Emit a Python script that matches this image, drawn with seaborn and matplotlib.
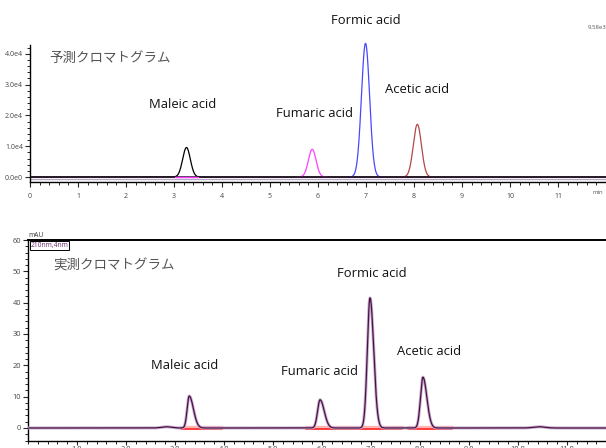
import numpy as np
import pandas as pd
import matplotlib
matplotlib.use("Agg")
import matplotlib.pyplot as plt
from matplotlib.ticker import MultipleLocator, FixedLocator, FixedFormatter
import seaborn as sns

# ---- predicted chromatogram (peak table) ----
pred_names = ["Maleic acid", "Fumaric acid", "Formic acid", "Acetic acid"]
pred_rt = [3.26, 5.88, 6.99, 8.07]          # min
pred_height = [9580, 9000, 43400, 17100]    # intensity
pred_sigma = [0.08, 0.08, 0.085, 0.085]     # min
pred_colors = ["black", "#ff40ff", "#4848ff", "#b04848"]

# ---- measured chromatogram (peak table, mAU) ----
meas_rt = [2.82, 3.29, 5.96, 6.98, 8.06, 10.43]
meas_height = [0.4, 10.2, 9.0, 41.5, 16.2, 0.4]
meas_sigma_left = [0.10, 0.042, 0.05, 0.055, 0.05, 0.12]
meas_sigma_right = [0.10, 0.085, 0.085, 0.075, 0.08, 0.12]
meas_baselines = [(3.12, 3.96), (5.68, 7.63), (7.76, 8.66)]

pred_tick_labels = [str(i) for i in range(12)]
meas_tick_labels = [f"{i:.1f}" for i in range(1, 12)]

sns.set_theme(style="ticks")
plt.rcParams["font.family"] = ["Open Sans", "Noto Sans CJK JP", "DejaVu Sans"]
jp_font = ["Noto Sans CJK JP", "DejaVu Sans"]

t = np.linspace(0, 12, 4801)


def gauss(x, rt, h, s):
    return h * np.exp(-0.5 * ((x - rt) / s) ** 2)


def skewed(x, rt, h, sl, sr):
    s = np.where(x < rt, sl, sr)
    return h * np.exp(-0.5 * ((x - rt) / s) ** 2)


fig = plt.figure(figsize=(6.06, 4.48), dpi=100)

# ================= upper panel =================
ax1 = fig.add_axes([30 / 606, 1 - 182 / 448, 576 / 606, 142 / 448])
ax1.set_xlim(0, 12)
ax1.set_ylim(-1620, 44480)

# faint companion baseline
ax1.plot([0, 12], [-550, -550], color="#b8a8c8", lw=1.0, zorder=1)

for name, rt, h, s, c in zip(pred_names, pred_rt, pred_height, pred_sigma, pred_colors):
    if c == "black":
        df = pd.DataFrame({"t": t, "y": gauss(t, rt, h, s)})
    else:
        m = np.abs(t - rt) < 4 * s
        df = pd.DataFrame({"t": t[m], "y": gauss(t[m], rt, h, s)})
    sns.lineplot(data=df, x="t", y="y", color=c, lw=0.9, ax=ax1, zorder=3)

# baseline
ax1.plot([0, 12], [0, 0], color="#1a0a1a", lw=1.1, zorder=4)
ax1.plot([3.02, 3.5], [150, 150], color="#ff40ff", lw=1.0, zorder=5)

ax1.spines["top"].set_visible(False)
ax1.spines["right"].set_visible(False)
ax1.spines["left"].set_bounds(-1620, 43000)
for sp in ["left", "bottom"]:
    ax1.spines[sp].set_linewidth(1.0)
    ax1.spines[sp].set_color("black")

ax1.yaxis.set_major_locator(FixedLocator([0, 10000, 20000, 30000, 40000]))
ax1.yaxis.set_major_formatter(FixedFormatter(["0.0e0", "1.0e4", "2.0e4", "3.0e4", "4.0e4"]))
ax1.yaxis.set_minor_locator(FixedLocator(np.arange(-2000, 43000, 2000)[1:]))
ax1.xaxis.set_major_locator(FixedLocator(list(range(12))))
ax1.xaxis.set_major_formatter(FixedFormatter(pred_tick_labels))
ax1.xaxis.set_minor_locator(MultipleLocator(0.2))
ax1.tick_params(axis="both", which="major", length=3.5, width=0.8, labelsize=5,
                labelcolor="#444444", pad=1.5, direction="out")
ax1.tick_params(axis="both", which="minor", length=2.5, width=0.7, direction="out")
ax1.tick_params(axis="x", which="major", pad=4.5)
ax1.set_xlabel("")
ax1.set_ylabel("")
ax1.text(11.82, -4200, "min", fontsize=4.3, color="#555555", ha="center", va="top")
ax1.text(1.0, 1.085, "9.58e3", transform=ax1.transAxes, fontsize=4.3,
         color="#555555", ha="right", va="center", clip_on=False)

ax1.text(0.41, 38600, "予測クロマトグラム", family=jp_font, fontsize=9.7,
         color="#555555", ha="left", va="center")
pred_label_pos = [(3.19, 23700), (5.92, 20500), (6.99, 50800), (8.07, 28300)]
for name, (lx, ly) in zip(pred_names, pred_label_pos):
    ax1.text(lx, ly, name, fontsize=9.4, color="#111111", ha="center",
             va="center", clip_on=False)

# ================= lower panel =================
ax2 = fig.add_axes([28 / 606, 1 - 441 / 448, 578 / 606, 201 / 448])
ax2.set_xlim(0, 578 / 49)
ax2.set_ylim(-4.15, 60)

sig = np.zeros_like(t)
for rt, h, sl, sr in zip(meas_rt, meas_height, meas_sigma_left, meas_sigma_right):
    sig += skewed(t, rt, h, sl, sr)
dfm = pd.DataFrame({"t": t, "y": sig})

for a, b in meas_baselines:
    ax2.plot([a, b], [0.4, 0.4], color="#ffb4b4", lw=2.4, zorder=2)
    ax2.plot([a, b], [-0.2, -0.2], color="#ff3030", lw=1.3, zorder=2)

sns.lineplot(data=dfm, x="t", y="y", color="#c8b0d4", lw=2.2, ax=ax2, zorder=3)
sns.lineplot(data=dfm, x="t", y="y", color="#4a1040", lw=0.9, ax=ax2, zorder=4)

ax2.spines["right"].set_visible(False)
for sp in ["left", "bottom"]:
    ax2.spines[sp].set_linewidth(1.0)
    ax2.spines[sp].set_color("black")
ax2.spines["top"].set_linewidth(1.4)
ax2.spines["top"].set_color("black")

ax2.yaxis.set_major_locator(MultipleLocator(10))
ax2.yaxis.set_minor_locator(MultipleLocator(2))
ax2.xaxis.set_major_locator(FixedLocator(list(range(1, 12))))
ax2.xaxis.set_major_formatter(FixedFormatter(meas_tick_labels))
ax2.xaxis.set_minor_locator(MultipleLocator(0.2))
ax2.tick_params(axis="both", which="major", length=3.5, width=0.8, labelsize=5.3,
                labelcolor="#444444", pad=1.5, direction="out")
ax2.tick_params(axis="both", which="minor", length=2.5, width=0.7, direction="out")
ax2.tick_params(axis="x", which="major", length=3, pad=0.3)
ax2.set_xlabel("")
ax2.set_ylabel("")

ax2.text(0.0, 61.4, "mAU", fontsize=4.8, color="#333333", ha="left", va="center",
         clip_on=False)
ax2.text(0.05, 58.2, "210nm,4nm", fontsize=4.8, color="#6a2a6a", ha="left",
         va="center", bbox=dict(boxstyle="square,pad=0.12", fc="white",
                                ec="black", lw=0.7))

ax2.text(0.52, 52.0, "実測クロマトグラム", family=jp_font, fontsize=9.7,
         color="#555555", ha="left", va="center")
meas_label_pos = [(3.2, 19.8), (5.94, 17.9), (7.02, 49.2), (8.18, 24.3)]
for name, (lx, ly) in zip(pred_names, meas_label_pos):
    ax2.text(lx, ly, name, fontsize=9.4, color="#111111", ha="center", va="center")

fig.savefig("out.png", dpi=100)
